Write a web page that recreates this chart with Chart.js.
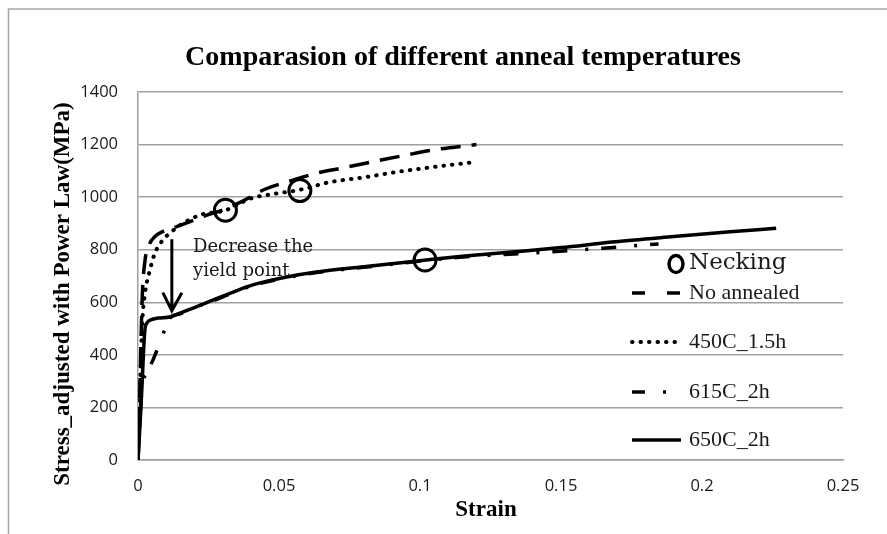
<!DOCTYPE html>
<html lang="en">
<head>
  <meta charset="UTF-8">
  <title>Comparasion of different anneal temperatures</title>
  <script src="https://cdn.jsdelivr.net/npm/chart.js"></script>
  <style>
    html, body { margin: 0; padding: 0; background: #fff; }
    .chart-box { position: relative; width: 887px; height: 534px; }
  </style>
</head>
<body>
  <div class="chart-box"><canvas id="stressChart"></canvas></div>

  <script>
    // values (strain, stress in MPa)
    const xTickLabels = ['0', '0.05', '0.1', '0.15', '0.2', '0.25'];
    const yTickLabels = ['0', '200', '400', '600', '800', '1000', '1200', '1400'];

    const noAnnealedStrain = [0, 0.0008, 0.0015, 0.0025, 0.004, 0.006, 0.009, 0.013, 0.018, 0.024, 0.031, 0.038, 0.045, 0.055, 0.064, 0.072, 0.083, 0.095, 0.105, 0.12];
    const noAnnealedStress = [0, 330, 620, 760, 820, 850, 870, 885, 905, 930, 955, 990, 1030, 1065, 1093, 1110, 1134, 1160, 1180, 1200];

    const t450Strain = [0, 0.0008, 0.0015, 0.0025, 0.0042, 0.006, 0.0088, 0.0113, 0.015, 0.022, 0.031, 0.04, 0.048, 0.057, 0.068, 0.08, 0.092, 0.105, 0.12];
    const t450Stress = [0, 300, 520, 635, 722, 787, 837, 863, 894, 932, 950, 995, 1012, 1027, 1057, 1075, 1096, 1115, 1134];

    const t615Strain = [0, 0.0007, 0.0015, 0.003, 0.0053, 0.0085, 0.0113, 0.015, 0.02, 0.0265, 0.034, 0.0407, 0.0527, 0.0633, 0.08, 0.1015, 0.1128, 0.13, 0.1446, 0.165, 0.1846];
    const t615Stress = [0, 160, 278, 330, 380, 468, 540, 556, 580, 605, 638, 664, 694, 713, 733, 758, 770, 782, 791, 806, 822];

    const t650Strain = [0, 0.0008, 0.0015, 0.002, 0.0025, 0.0032, 0.0045, 0.007, 0.0113, 0.0149, 0.02, 0.0265, 0.034, 0.0407, 0.0527, 0.0633, 0.08, 0.1015, 0.115, 0.1326, 0.15, 0.168, 0.19, 0.21, 0.2263];
    const t650Stress = [0, 150, 300, 420, 500, 522, 533, 540, 544, 559, 580, 608, 640, 666, 696, 715, 735, 760, 775, 791, 808, 829, 850, 868, 882];

    const neckingStrain = [0.031, 0.0574, 0.1018];
    const neckingStress = [950, 1025, 761];

    // "Decrease the yield point" note and its arrow
    const noteLines = ['Decrease the', 'yield point'];
    const noteStrain = 0.0195;
    const noteStress = 810;
    const arrowStrain = 0.012;
    const arrowFrom = 840;
    const arrowTo = 568;

    const chartTitle = 'Comparasion of different anneal temperatures';
    const xTitle = 'Strain';
    const yTitle = 'Stress_adjusted with Power Law(MPa)';

    const pts = (xs, ys) => xs.map((x, i) => ({ x: x, y: ys[i] }));

    const serif = '"Liberation Serif", "Times New Roman", serif';
    const tickFont = { family: '"Open Sans", sans-serif', size: 16.5 };

    // grey frame round the whole picture
    const framePlugin = {
      id: 'frame',
      beforeDraw(chart) {
        const ctx = chart.ctx;
        ctx.save();
        ctx.fillStyle = '#fff';
        ctx.fillRect(0, 0, chart.width, chart.height);
        ctx.strokeStyle = '#a6a6a6';
        ctx.lineWidth = 1.5;
        ctx.strokeRect(8.5, 9, chart.width + 10, chart.height + 10);
        ctx.restore();
      }
    };

    // titles, arrow, note and the legend drawn over the plot
    const notesPlugin = {
      id: 'notes',
      afterDraw(chart) {
        const ctx = chart.ctx;
        const xs = chart.scales.x, ys = chart.scales.y;
        const area = chart.chartArea;
        ctx.save();

        // titles (the original sits a bit right / low of the plot centre)
        ctx.fillStyle = '#000';
        ctx.textAlign = 'center';
        ctx.textBaseline = 'alphabetic';
        ctx.font = 'bold 28px ' + serif;
        ctx.fillText(chartTitle, 463, 65);
        ctx.font = 'bold 23px ' + serif;
        ctx.fillText(xTitle, 486, 516);
        ctx.save();
        ctx.translate(69, 294);
        ctx.rotate(-Math.PI / 2);
        ctx.fillText(yTitle, 0, 0);
        ctx.restore();

        // arrow
        const ax = xs.getPixelForValue(arrowStrain);
        const ay0 = ys.getPixelForValue(arrowFrom);
        const ay1 = ys.getPixelForValue(arrowTo);
        ctx.strokeStyle = '#000';
        ctx.lineWidth = 3;
        ctx.setLineDash([]);
        ctx.beginPath();
        ctx.moveTo(ax, ay0);
        ctx.lineTo(ax, ay1);
        ctx.moveTo(ax - 9, ay1 - 18);
        ctx.lineTo(ax, ay1);
        ctx.lineTo(ax + 10, ay1 - 18);
        ctx.stroke();

        // note text
        ctx.fillStyle = '#1a1a1a';
        ctx.font = '18px "DejaVu Serif", serif';
        ctx.textBaseline = 'middle';
        ctx.textAlign = 'left';
        const nx = xs.getPixelForValue(noteStrain);
        const ny = ys.getPixelForValue(noteStress);
        noteLines.forEach((t, i) => ctx.fillText(t, nx, ny + i * 24));

        // legend
        const sx = area.right - 211;
        const tx = area.right - 154;
        ctx.lineWidth = 3.5;
        ctx.beginPath();
        ctx.ellipse(sx + 44, area.top + 172, 7, 8.5, 0, 0, Math.PI * 2);
        ctx.stroke();
        ctx.font = '23px "DejaVu Serif", serif';
        ctx.fillText('Necking', tx, area.top + 171);

        const rows = [201, 250, 300, 348];
        chart.data.datasets.slice(1).forEach((ds, i) => {
          const y = area.top + rows[i];
          ctx.lineWidth = ds.borderWidth;
          ctx.lineCap = ds.borderCapStyle || 'butt';
          ctx.setLineDash(ds.legendDash || ds.borderDash || []);
          ctx.beginPath();
          ctx.moveTo(sx, y);
          ctx.lineTo(sx + 49, y);
          ctx.stroke();
          ctx.setLineDash([]);
          ctx.font = '22px ' + serif;
          ctx.fillText(ds.label, tx, y);
        });
        ctx.restore();
      }
    };

    const lineSet = (label, xs, ys, extra) => Object.assign({
      label: label,
      data: pts(xs, ys),
      showLine: true,
      borderColor: '#000',
      borderWidth: 3.5,
      pointRadius: 0,
      cubicInterpolationMode: 'monotone',
      fill: false
    }, extra);

    new Chart(document.getElementById('stressChart'), {
      type: 'scatter',
      data: {
        datasets: [
          {
            label: 'Necking',
            data: pts(neckingStrain, neckingStress),
            showLine: false,
            pointRadius: 11,
            pointBorderWidth: 3,
            pointBorderColor: '#000',
            pointBackgroundColor: 'rgba(0,0,0,0)'
          },
          lineSet('No annealed', noAnnealedStrain, noAnnealedStress, { borderDash: [20, 11], legendDash: [13, 22] }),
          lineSet('450C_1.5h', t450Strain, t450Stress, { borderWidth: 4, borderDash: [0.5, 8], borderCapStyle: 'round' }),
          lineSet('615C_2h', t615Strain, t615Stress, { borderDash: [15, 18, 3, 13], legendDash: [13, 18, 3, 18, 3, 10] }),
          lineSet('650C_2h', t650Strain, t650Stress, {})
        ]
      },
      options: {
        responsive: true,
        maintainAspectRatio: false,
        animation: false,
        layout: { padding: { left: 0, right: 44, top: 92, bottom: 0 } },
        plugins: {
          legend: { display: false },
          tooltip: { enabled: false },
          title: { display: false }
        },
        scales: {
          x: {
            type: 'linear',
            min: 0,
            max: 0.25,
            afterFit: s => { s.height = 74; },
            afterBuildTicks: axis => { axis.ticks = xTickLabels.map(v => ({ value: parseFloat(v) })); },
            grid: { display: false, drawTicks: false },
            border: { display: true, color: '#a0a0a0', width: 1.5 },
            ticks: {
              color: '#1a1a1a',
              font: tickFont,
              padding: 16,
              maxRotation: 0,
              callback: (v, i) => xTickLabels[i]
            }
          },
          y: {
            min: 0,
            max: 1400,
            afterFit: s => { s.width = 138; },
            afterBuildTicks: axis => { axis.ticks = yTickLabels.map(v => ({ value: Number(v) })); },
            grid: { color: '#a0a0a0', lineWidth: 1.5, drawTicks: false },
            border: { display: true, color: '#a0a0a0', width: 1.5 },
            ticks: {
              color: '#1a1a1a',
              font: tickFont,
              padding: 20,
              callback: (v, i) => yTickLabels[i]
            }
          }
        }
      },
      plugins: [framePlugin, notesPlugin]
    });
  </script>
</body>
</html>
